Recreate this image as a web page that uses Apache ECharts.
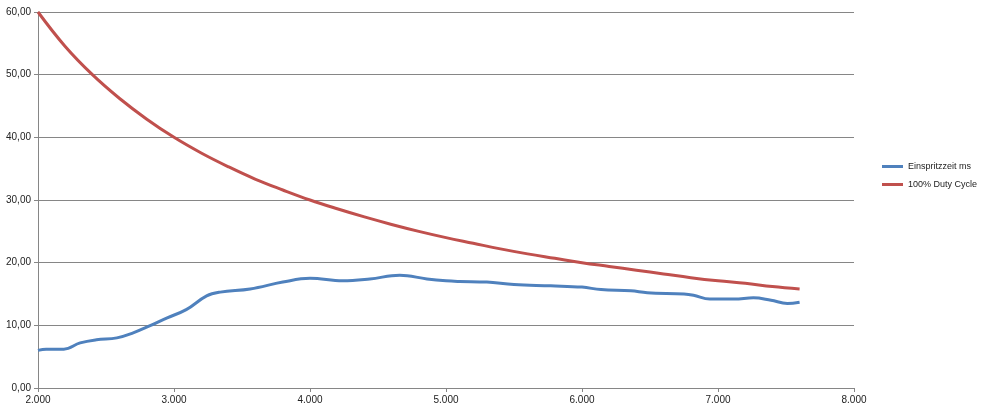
<!DOCTYPE html>
<html>
<head>
<meta charset="utf-8">
<script src="https://cdn.jsdelivr.net/npm/echarts@6/dist/echarts.min.js"></script>
<style>
html,body{margin:0;padding:0;background:#fff;}
#c{width:988px;height:413px;}
</style>
</head>
<body>
<div id="c"></div>
<script>
const seriesNames = ['Einspritzzeit ms', '100% Duty Cycle'];
const injRpm = [2000, 2060, 2190, 2310, 2430, 2580, 2700, 2820, 2950, 3090, 3240, 3340, 3560, 3800, 4000, 4240, 4440, 4660, 4860, 5000, 5100, 5300, 5500, 5770, 6000, 6140, 6360, 6480, 6750, 6820, 6940, 7120, 7260, 7390, 7510, 7600];
const injMs  = [6.0, 6.2, 6.2, 7.2, 7.7, 8.0, 8.8, 9.9, 11.2, 12.5, 14.7, 15.3, 15.8, 16.9, 17.5, 17.1, 17.4, 18.0, 17.4, 17.1, 17.0, 16.9, 16.5, 16.3, 16.1, 15.7, 15.5, 15.2, 15.0, 14.8, 14.2, 14.2, 14.4, 14.0, 13.5, 13.7];
const dutyRpm = [2000, 2200, 2400, 2600, 2800, 3000, 3200, 3400, 3600, 3800, 4000, 4200, 4400, 4600, 4800, 5000, 5200, 5400, 5600, 5800, 6000, 6200, 6400, 6600, 6800, 7000, 7200, 7400, 7600];
const dutyMs  = [60.0, 54.5, 50.0, 46.2, 42.9, 40.0, 37.5, 35.3, 33.3, 31.6, 30.0, 28.6, 27.3, 26.1, 25.0, 24.0, 23.1, 22.2, 21.4, 20.7, 20.0, 19.4, 18.8, 18.2, 17.6, 17.1, 16.7, 16.2, 15.8];

const font = 'Liberation Sans';
const chart = echarts.init(document.getElementById('c'));
chart.setOption({
  animation: false,
  backgroundColor: '#fff',
  grid: { left: 38, right: 134, top: 12, bottom: 25 },
  legend: {
    orient: 'vertical', left: 877, top: 157, itemWidth: 21, itemHeight: 3, itemGap: 9,
    icon: 'rect',
    textStyle: { fontFamily: font, fontSize: 9, color: '#222' },
    data: seriesNames
  },
  xAxis: {
    type: 'value', min: 2000, max: 8000, interval: 1000,
    axisLine: { lineStyle: { color: '#868686', width: 1 } },
    axisTick: { show: true, length: 4, lineStyle: { color: '#868686' } },
    splitLine: { show: false },
    axisLabel: {
      fontFamily: font, fontSize: 10, color: '#222', margin: 7,
      formatter: v => (v / 1000).toFixed(3)
    }
  },
  yAxis: {
    type: 'value', min: 0, max: 60, interval: 10,
    axisLine: { show: true, lineStyle: { color: '#868686', width: 1 } },
    axisTick: { show: true, length: 4, lineStyle: { color: '#868686' } },
    splitLine: { lineStyle: { color: '#868686', width: 1 } },
    axisLabel: {
      fontFamily: font, fontSize: 10, color: '#222', margin: 7,
      formatter: v => v.toFixed(2).replace('.', ',')
    }
  },
  series: [
    {
      name: seriesNames[0], type: 'line', smooth: 0.4, showSymbol: false,
      lineStyle: { width: 3, color: '#4F81BD' }, itemStyle: { color: '#4F81BD' },
      data: injRpm.map((r, i) => [r, injMs[i]])
    },
    {
      name: seriesNames[1], type: 'line', smooth: 0.4, showSymbol: false,
      lineStyle: { width: 3, color: '#C0504D' }, itemStyle: { color: '#C0504D' },
      data: dutyRpm.map((r, i) => [r, dutyMs[i]])
    }
  ]
});
</script>
</body>
</html>
